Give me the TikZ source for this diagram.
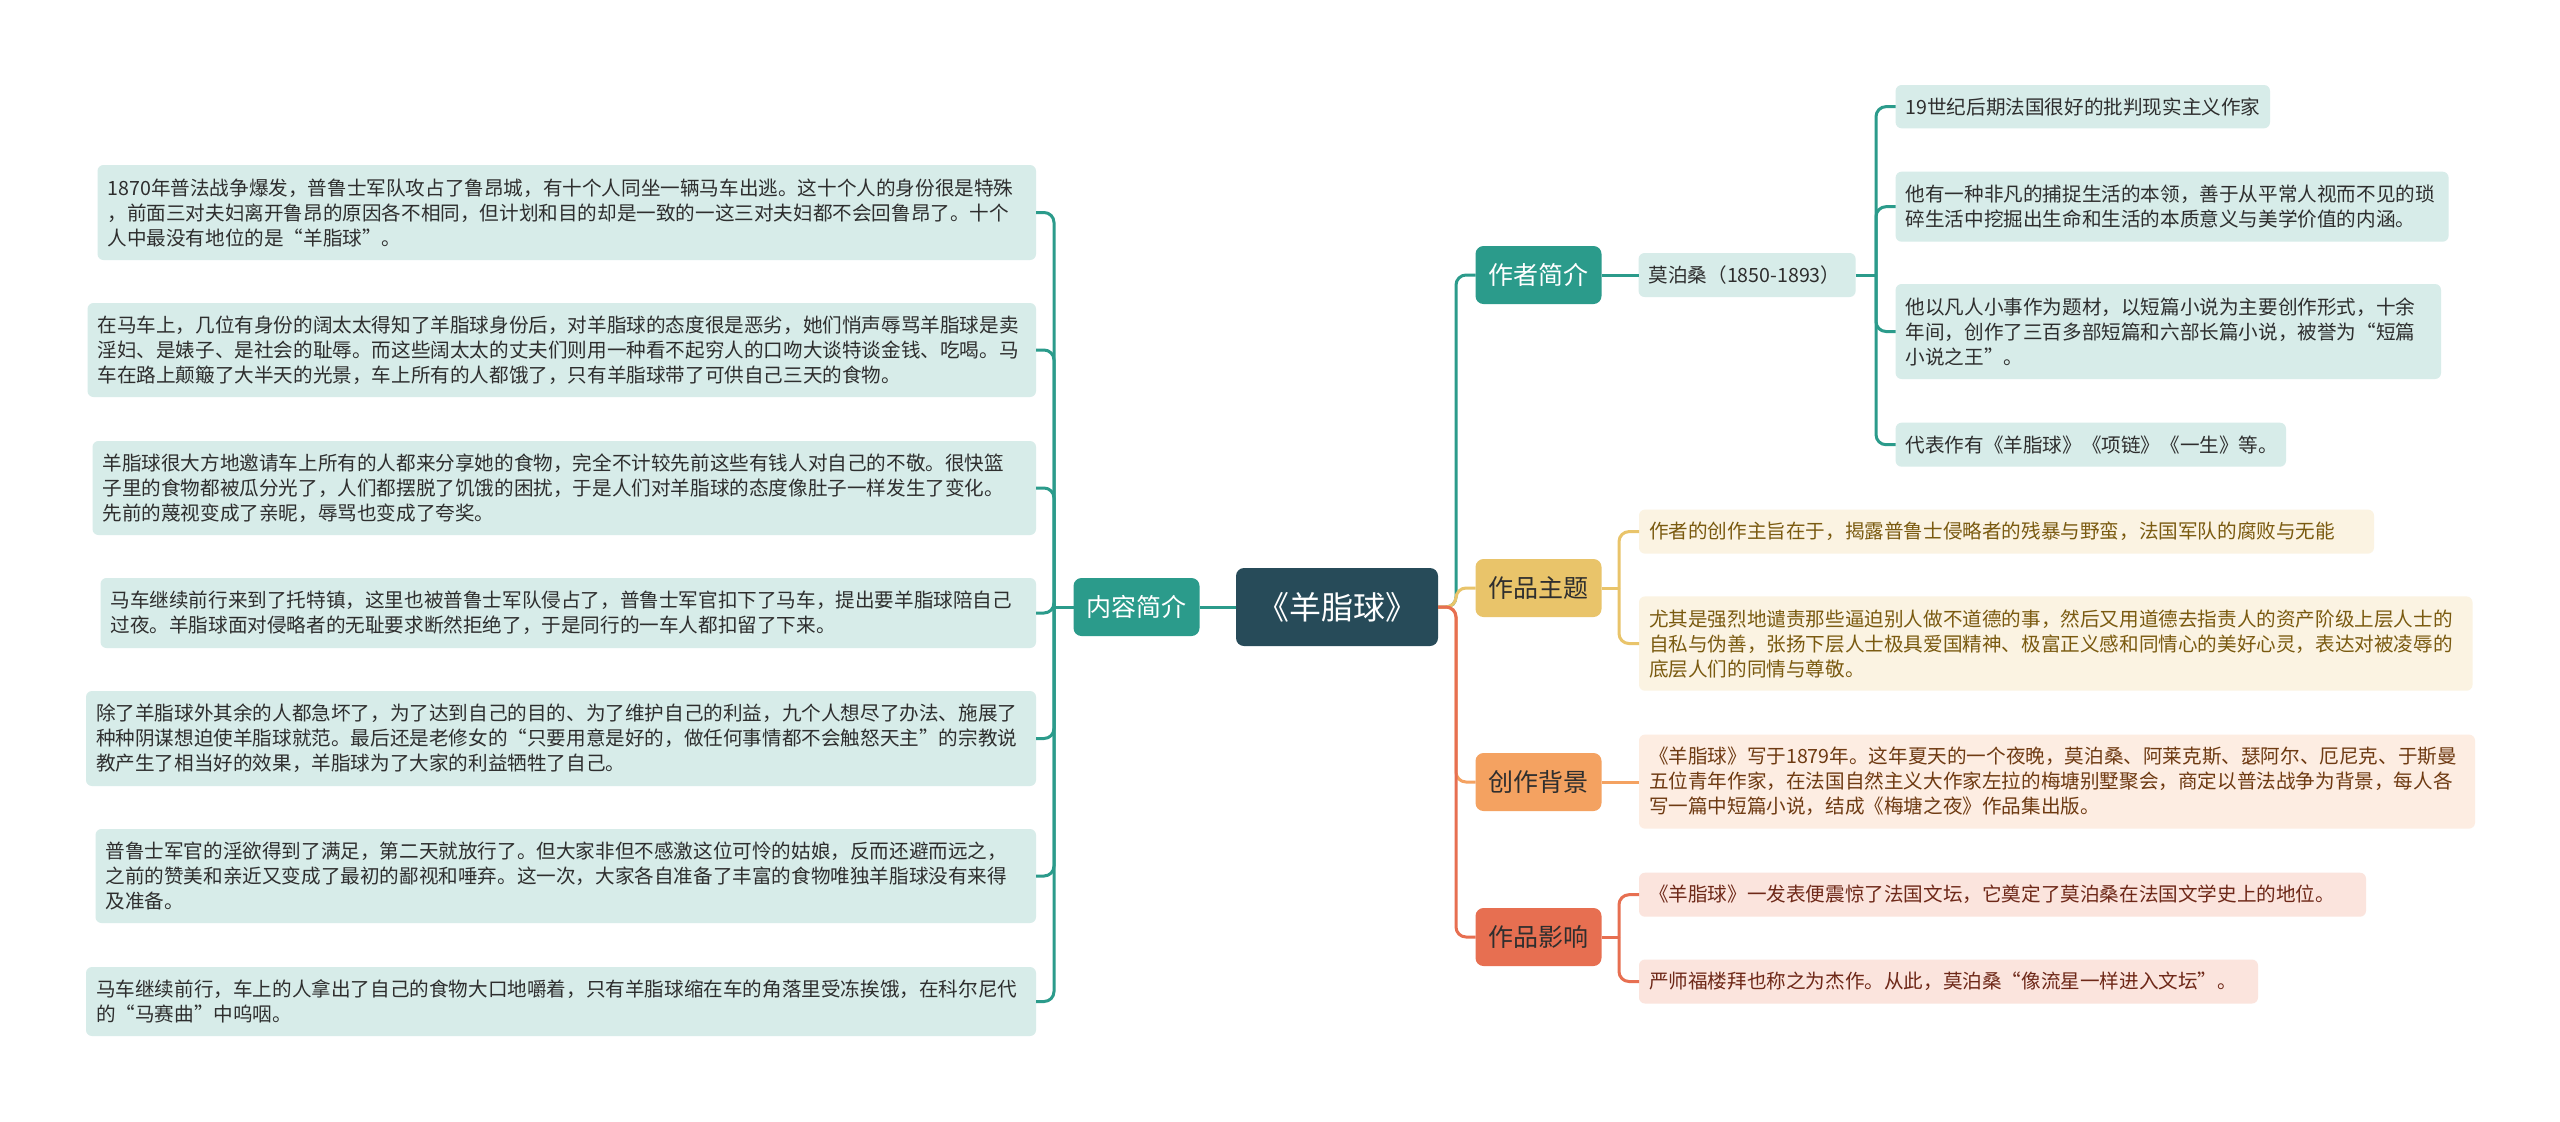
\documentclass[tikz,border=0pt]{standalone}
\usepackage{fontspec}
\setmainfont{Noto Sans CJK SC}
\definecolor{cDark}{HTML}{274B59}
\definecolor{cTeal}{HTML}{2B9B8B}
\definecolor{cTealL}{HTML}{D7ECE9}
\definecolor{cText}{HTML}{2E2E2E}
\definecolor{cYel}{HTML}{E9C46A}
\definecolor{cYelL}{HTML}{FBF3E2}
\definecolor{cYelT}{HTML}{7A5A10}
\definecolor{cOra}{HTML}{F4A261}
\definecolor{cOraL}{HTML}{FDEDE2}
\definecolor{cOraT}{HTML}{6E3A12}
\definecolor{cRed}{HTML}{E76F51}
\definecolor{cRedL}{HTML}{FBE4DD}
\definecolor{cRedT}{HTML}{6E2818}
\begin{document}
\begin{tikzpicture}[x=0.5pt,y=-0.5pt,
  every node/.style={outer sep=0pt},
  conn/.style={line width=1.5pt, rounded corners=5pt},
  leaf/.style={anchor=north west, rounded corners=3pt, inner xsep=5pt, inner ysep=4pt,
    align=left, font=\fontsize{9.8}{12.5}\selectfont, execute at begin node={\parindent=0pt}},
  tleaf/.style={leaf, fill=cTealL, text=cText},
  yleaf/.style={leaf, fill=cYelL, text=cYelT},
  oleaf/.style={leaf, fill=cOraL, text=cOraT},
  rleaf/.style={leaf, fill=cRedL, text=cRedT},
  branch/.style={rounded corners=4pt, minimum width=63pt, minimum height=29pt, inner sep=0pt,
    font=\fontsize{12.5}{15}\selectfont},
  rootnode/.style={rounded corners=4pt, fill=cDark, text=white, minimum width=101pt,
    minimum height=39pt, inner sep=0pt, font=\fontsize{16}{19}\selectfont}
]
\useasboundingbox (0,0) rectangle (2560,1121);
\fill[white] (0,0) rectangle (2560,1121);

% main nodes
\node[rootnode] (root) at (1337,607) {《羊脂球》};
\node[branch, fill=cTeal, text=white] (nr) at (1136.5,607) {内容简介};
\node[branch, fill=cTeal, text=white] (zz) at (1538.5,275) {作者简介};
\node[branch, fill=cYel, text=cText] (zt) at (1538.5,588) {作品主题};
\node[branch, fill=cOra, text=cText] (bj) at (1538.5,782) {创作背景};
\node[branch, fill=cRed, text=cText] (yx) at (1538.5,937) {作品影响};

% left leaves
\node[tleaf, text width=459.25pt, minimum height=47.5pt] (L1) at (97.5,165) {1870年普法战争爆发，普鲁士军队攻占了鲁昂城，有十个人同坐一辆马车出逃。这十个人的身份很是特殊\\，前面三对夫妇离开鲁昂的原因各不相同，但计划和目的却是一致的一这三对夫妇都不会回鲁昂了。十个\\人中最没有地位的是“羊脂球”。};
\node[tleaf, text width=464.25pt, minimum height=47pt] (L2) at (87.5,303) {在马车上，几位有身份的阔太太得知了羊脂球身份后，对羊脂球的态度很是恶劣，她们悄声辱骂羊脂球是卖\\淫妇、是婊子、是社会的耻辱。而这些阔太太的丈夫们则用一种看不起穷人的口吻大谈特谈金钱、吃喝。马\\车在路上颠簸了大半天的光景，车上所有的人都饿了，只有羊脂球带了可供自己三天的食物。};
\node[tleaf, text width=461.75pt, minimum height=47pt] (L3) at (92.5,441) {羊脂球很大方地邀请车上所有的人都来分享她的食物，完全不计较先前这些有钱人对自己的不敬。很快篮\\子里的食物都被瓜分光了，人们都摆脱了饥饿的困扰，于是人们对羊脂球的态度像肚子一样发生了变化。\\先前的蔑视变成了亲昵，辱骂也变成了夸奖。};
\node[tleaf, text width=457.75pt, minimum height=35pt] (L4) at (100.5,578) {马车继续前行来到了托特镇，这里也被普鲁士军队侵占了，普鲁士军官扣下了马车，提出要羊脂球陪自己\\过夜。羊脂球面对侵略者的无耻要求断然拒绝了，于是同行的一车人都扣留了下来。};
\node[tleaf, text width=465pt, minimum height=47.5pt] (L5) at (86,691) {除了羊脂球外其余的人都急坏了，为了达到自己的目的、为了维护自己的利益，九个人想尽了办法、施展了\\种种阴谋想迫使羊脂球就范。最后还是老修女的“只要用意是好的，做任何事情都不会触怒天主”的宗教说\\教产生了相当好的效果，羊脂球为了大家的利益牺牲了自己。};
\node[tleaf, text width=460.25pt, minimum height=47pt] (L6) at (95.5,829) {普鲁士军官的淫欲得到了满足，第二天就放行了。但大家非但不感激这位可怜的姑娘，反而还避而远之，\\之前的赞美和亲近又变成了最初的鄙视和唾弃。这一次，大家各自准备了丰富的食物唯独羊脂球没有来得\\及准备。};
\node[tleaf, text width=465pt, minimum height=34.5pt] (L7) at (86,967) {马车继续前行，车上的人拿出了自己的食物大口地嚼着，只有羊脂球缩在车的角落里受冻挨饿，在科尔尼代\\的“马赛曲”中呜咽。};

% author branch
\node[tleaf, text width=98.5pt, minimum height=22pt] (A) at (1638.6,253) {莫泊桑（1850-1893）};
\node[tleaf, text width=177.2pt, minimum height=21.65pt] (A1) at (1895.6,85) {19世纪后期法国很好的批判现实主义作家};
\node[tleaf, text width=266.5pt, minimum height=35pt] (A2) at (1895.6,171.7) {他有一种非凡的捕捉生活的本领，善于从平常人视而不见的琐\\碎生活中挖掘出生命和生活的本质意义与美学价值的内涵。};
\node[tleaf, text width=262.7pt, minimum height=47.5pt] (A3) at (1895.6,284) {他以凡人小事作为题材，以短篇小说为主要创作形式，十余\\年间，创作了三百多部短篇和六部长篇小说，被誉为“短篇\\小说之王”。};
\node[tleaf, text width=185.2pt, minimum height=22pt] (A4) at (1895.6,422.7) {代表作有《羊脂球》《项链》《一生》等。};

% theme branch
\node[yleaf, text width=357.5pt, minimum height=22pt] (T1) at (1639,509.6) {作者的创作主旨在于，揭露普鲁士侵略者的残暴与野蛮，法国军队的腐败与无能};
\node[yleaf, text width=406.75pt, minimum height=47.15pt] (T2) at (1639,596.4) {尤其是强烈地谴责那些逼迫别人做不道德的事，然后又用道德去指责人的资产阶级上层人士的\\自私与伪善，张扬下层人士极具爱国精神、极富正义感和同情心的美好心灵，表达对被凌辱的\\底层人们的同情与尊敬。};

% background branch
\node[oleaf, text width=408pt, minimum height=47pt] (B1) at (1639,734.6) {《羊脂球》写于1879年。这年夏天的一个夜晚，莫泊桑、阿莱克斯、瑟阿尔、厄尼克、于斯曼\\五位青年作家，在法国自然主义大作家左拉的梅塘别墅聚会，商定以普法战争为背景，每人各\\写一篇中短篇小说，结成《梅塘之夜》作品集出版。};

% influence branch
\node[rleaf, text width=353.5pt, minimum height=22pt] (I1) at (1639,872.7) {《羊脂球》一发表便震惊了法国文坛，它奠定了莫泊桑在法国文学史上的地位。};
\node[rleaf, text width=299.5pt, minimum height=22pt] (I2) at (1639,959.5) {严师福楼拜也称之为杰作。从此，莫泊桑“像流星一样进入文坛”。};

% junctions
\coordinate (jl) at (1054,607);
\coordinate (jr) at (1456,607);
\coordinate (ja) at (1876,275);
\coordinate (jt) at (1619,588);
\coordinate (ji) at (1619,937);

% left connectors
\draw[conn, cTeal] (root.west) -- (nr.east);
\draw[conn, cTeal] (nr.west) -- (jl);
\foreach \n in {L1,L2,L3,L4,L5,L6,L7} \draw[conn, cTeal] (jl) |- (\n.east);

% right connectors
\draw[conn, cTeal] (root.east) -- (jr) |- (zz.west);
\draw[conn, cYel] (root.east) -- (jr) |- (zt.west);
\draw[conn, cOra] (root.east) -- (jr) |- (bj.west);
\draw[conn, cRed] (root.east) -- (jr) |- (yx.west);

\draw[conn, cTeal] (zz.east) -- (A.west);
\draw[conn, cTeal] (A.east) -- (ja);
\foreach \n in {A1,A2,A3,A4} \draw[conn, cTeal] (ja) |- (\n.west);

\draw[conn, cYel] (zt.east) -- (jt);
\foreach \n in {T1,T2} \draw[conn, cYel] (jt) |- (\n.west);

\draw[conn, cOra] (bj.east) -- (bj.east -| B1.west);

\draw[conn, cRed] (yx.east) -- (ji);
\foreach \n in {I1,I2} \draw[conn, cRed] (ji) |- (\n.west);
\end{tikzpicture}
\end{document}
